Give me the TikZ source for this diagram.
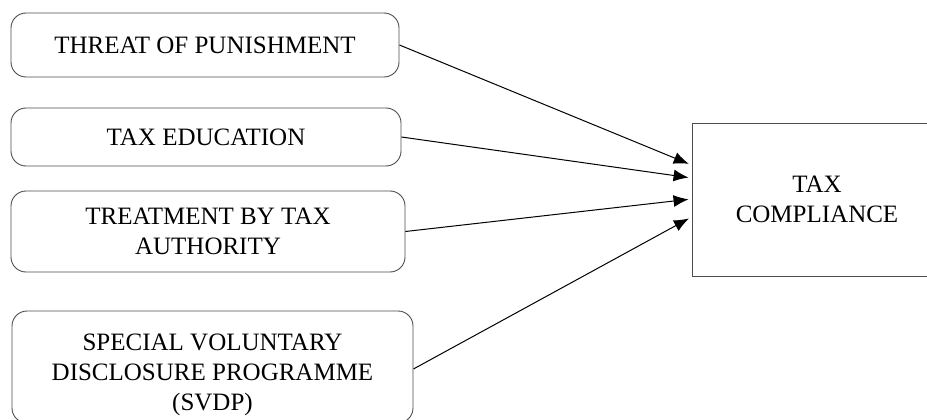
\documentclass[tikz,border=0pt]{standalone}
\usepackage{fontspec}
\setmainfont{Liberation Serif}
\usetikzlibrary{arrows.meta}
\begin{document}
\begin{tikzpicture}[
            x=1pt, y=-1pt,
            every node/.style={align=center, font=\fontsize{25}{30}\selectfont},
            factor/.style={draw=black!70, line width=0.9pt, rounded corners=15pt},
            outcome/.style={draw=black!70, line width=0.9pt, minimum width=250pt, minimum height=153pt},
            link/.style={line width=1pt, -{Latex[length=15pt,width=12pt]}, shorten >=3pt}
            ]
        \clip (0,0) rectangle (927,420);
        \useasboundingbox (0,0) rectangle (927,420);
        \node[factor, minimum width=388pt, minimum height=64pt] (threat) at (205,45) {THREAT OF PUNISHMENT};
        \node[factor, minimum width=390pt, minimum height=58pt] (edu) at (206,137) {TAX EDUCATION};
        \node[factor, minimum width=394pt, minimum height=81pt] (treat) at (208,231.5) {TREATMENT BY TAX\\AUTHORITY};
        \node[factor, minimum width=401pt, minimum height=112pt] (svdp) at (212.5,367) {};
        \node (svdptext) at ([yshift=-8pt]svdp.center) {SPECIAL VOLUNTARY\\DISCLOSURE PROGRAMME\\(SVDP)};
        \node[outcome] (comp) at (817,199.5) {TAX\\COMPLIANCE};
        % arrow ends on the left side of the outcome box
        \coordinate (in1) at ([yshift=34.5pt]comp.west);
        \coordinate (in2) at ([yshift=21.5pt]comp.west);
        \coordinate (in3) at ([yshift=0.5pt]comp.west);
        \coordinate (in4) at ([yshift=-17.5pt]comp.west);
        \draw[link] (threat.east) -- (in1);
        \draw[link] (edu.east) -- (in2);
        \draw[link] (treat.east) -- (in3);
        \draw[link] ([yshift=-2pt]svdp.east) -- (in4);
        \end{tikzpicture}
\end{document}
